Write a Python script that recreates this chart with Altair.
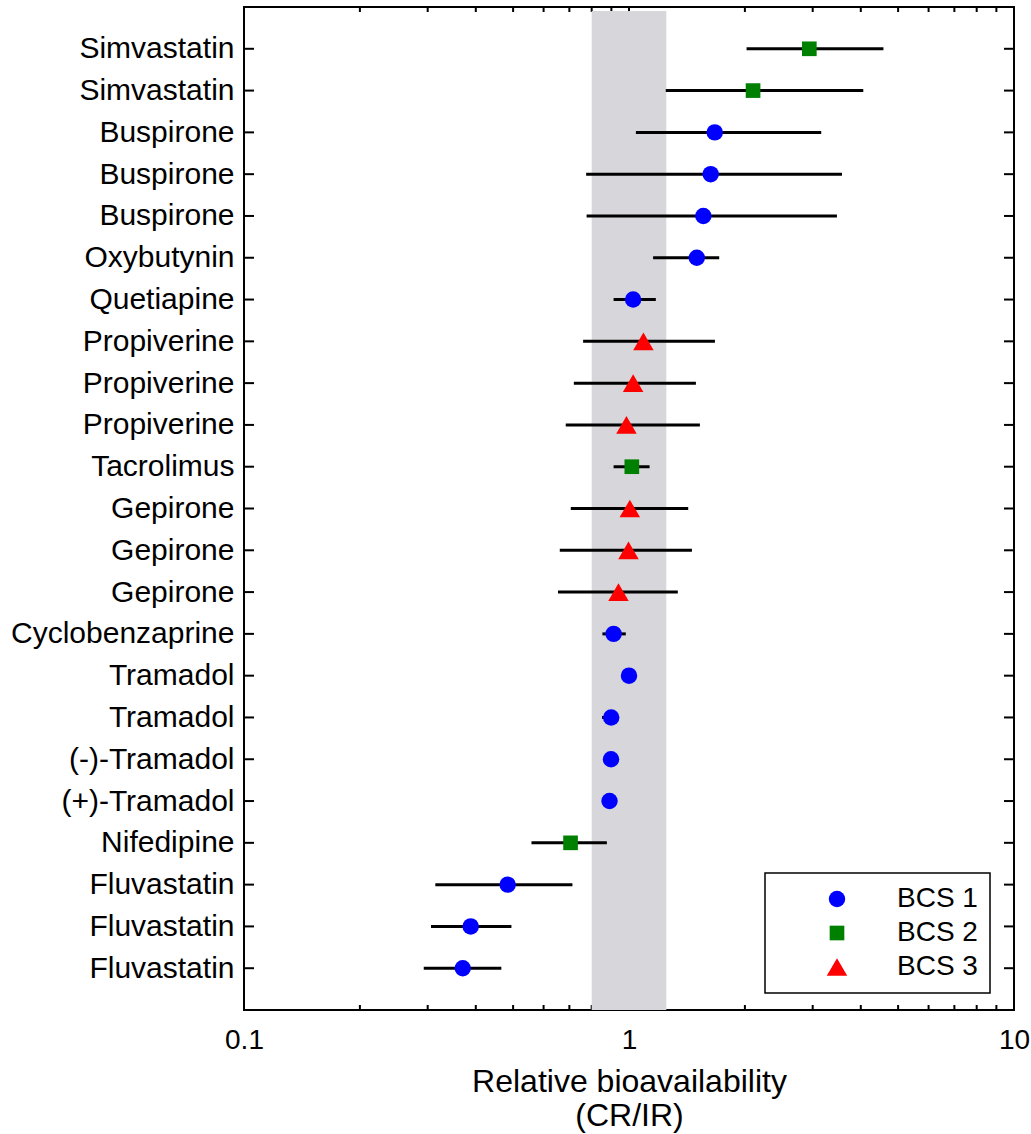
import altair as alt
import pandas as pd

# Formulations, listed top to bottom
drugs = [
    "Simvastatin", "Simvastatin", "Buspirone", "Buspirone", "Buspirone",
    "Oxybutynin", "Quetiapine", "Propiverine", "Propiverine", "Propiverine",
    "Tacrolimus", "Gepirone", "Gepirone", "Gepirone", "Cyclobenzaprine",
    "Tramadol", "Tramadol", "(-)-Tramadol", "(+)-Tramadol", "Nifedipine",
    "Fluvastatin", "Fluvastatin", "Fluvastatin",
]
bcs_class = [
    "BCS 2", "BCS 2", "BCS 1", "BCS 1", "BCS 1",
    "BCS 1", "BCS 1", "BCS 3", "BCS 3", "BCS 3",
    "BCS 2", "BCS 3", "BCS 3", "BCS 3", "BCS 1",
    "BCS 1", "BCS 1", "BCS 1", "BCS 1", "BCS 2",
    "BCS 1", "BCS 1", "BCS 1",
]
# Relative bioavailability (CR/IR) point estimates and 90% CI limits
ratio = [
    2.94, 2.10, 1.67, 1.63, 1.56,
    1.50, 1.025, 1.09, 1.025, 0.985,
    1.017, 1.005, 0.997, 0.939, 0.912,
    1.00, 0.899, 0.898, 0.890, 0.705,
    0.484, 0.388, 0.370,
]
ci_low = [
    2.02, 1.246, 1.042, 0.774, 0.776,
    1.155, 0.912, 0.760, 0.719, 0.685,
    0.912, 0.706, 0.661, 0.654, 0.853,
    None, 0.851, None, None, 0.558,
    0.314, 0.306, 0.293,
]
ci_high = [
    4.58, 4.06, 3.157, 3.574, 3.468,
    1.715, 1.174, 1.672, 1.492, 1.528,
    1.131, 1.425, 1.457, 1.339, 0.981,
    None, 0.921, None, None, 0.876,
    0.713, 0.495, 0.466,
]
# Bioequivalence window
be_limits = [0.8, 1.25]
x_ticks_minor = [0.2, 0.3, 0.4, 0.5, 0.6, 0.7, 0.8, 0.9, 1, 2, 3, 4, 5, 6, 7, 8, 9]
x_labels = [0.1, 1, 10]

W, H = 770, 1003
FONT = "Liberation Sans"

df = pd.DataFrame({
    "row": list(range(1, len(drugs) + 1)),
    "drug": drugs,
    "bcs": bcs_class,
    "ratio": ratio,
    "lo": ci_low,
    "hi": ci_high,
})
band_df = pd.DataFrame({"lo": [be_limits[0]], "hi": [be_limits[1]]})
tick_df = pd.DataFrame({"v": x_ticks_minor})

label_expr = "[''," + ",".join(f"'{d}'" for d in drugs) + "][datum.value]"

xscale = alt.Scale(type="log", domain=[0.1, 10])
yscale = alt.Scale(domain=[0, len(drugs) + 1], reverse=True)

x_axis = alt.Axis(
    values=x_labels, format="~g", ticks=False, domain=False, grid=False,
    labelFontSize=28, labelPadding=16, labelFlush=False, labelFont=FONT,
    labelColor="black",
    title=["Relative bioavailability", "(CR/IR)"], titleFontSize=32,
    titleFont=FONT, titleFontWeight="normal", titleColor="black",
    titlePadding=12, titleLineHeight=34,
)
y_axis = alt.Axis(
    values=list(range(1, len(drugs) + 1)), labelExpr=label_expr,
    ticks=False, domain=False, grid=False, labelFontSize=30,
    labelPadding=10, labelLimit=400, labelFont=FONT, labelColor="black",
    title=None,
)

# Inward ticks on all four sides of the frame
y_ticks_left = alt.Chart(df).mark_rule(color="black", strokeWidth=2).encode(
    y=alt.Y("row:Q", scale=yscale, axis=y_axis),
    x=alt.value(0), x2=alt.value(10),
)
y_ticks_right = alt.Chart(df).mark_rule(color="black", strokeWidth=2).encode(
    y=alt.Y("row:Q", scale=yscale),
    x=alt.value(W - 10), x2=alt.value(W),
)
x_ticks_top = alt.Chart(tick_df).mark_rule(color="black", strokeWidth=2).encode(
    x=alt.X("v:Q", scale=xscale, axis=x_axis),
    y=alt.value(0), y2=alt.value(5),
)
x_ticks_bottom = alt.Chart(tick_df).mark_rule(color="black", strokeWidth=2).encode(
    x=alt.X("v:Q", scale=xscale),
    y=alt.value(H - 5), y2=alt.value(H),
)

band = alt.Chart(band_df).mark_rect(color="#d7d7db").encode(
    x=alt.X("lo:Q", scale=xscale),
    x2="hi:Q",
    y=alt.value(4), y2=alt.value(H),
)

errbars = alt.Chart(df).mark_rule(color="black", strokeWidth=3).encode(
    x=alt.X("lo:Q", scale=xscale),
    x2="hi:Q",
    y=alt.Y("row:Q", scale=yscale),
)

classes = ["BCS 1", "BCS 2", "BCS 3"]
legend = alt.Legend(
    title=None, orient="none", legendX=521, legendY=866,
    strokeColor="black", fillColor="white",
    padding=12, symbolOffset=46, labelOffset=46, rowPadding=6,
    labelFontSize=28, labelFont=FONT, labelColor="black",
    symbolStrokeWidth=0,
)
points = alt.Chart(df).mark_point(filled=True, opacity=1).encode(
    x=alt.X("ratio:Q", scale=xscale),
    y=alt.Y("row:Q", scale=yscale),
    color=alt.Color("bcs:N", scale=alt.Scale(domain=classes, range=["#0000ff", "#008000", "#ff0000"]), legend=legend),
    shape=alt.Shape("bcs:N", scale=alt.Scale(domain=classes, range=["circle", "square", "triangle-up"]), legend=legend),
    size=alt.Size("bcs:N", scale=alt.Scale(type="ordinal", domain=classes, range=[270, 215, 420]), legend=legend),
)

chart = alt.layer(
    y_ticks_left, y_ticks_right, x_ticks_top, x_ticks_bottom, band, errbars, points
).properties(
    width=W, height=H,
    autosize=alt.AutoSizeParams(type="none"),
    padding={"left": 244, "top": 7, "right": 17, "bottom": 124},
    background="white",
).configure_view(
    stroke="black", strokeWidth=2,
).configure_legend(
    strokeWidth=1.5,
)

chart.save("out.html", embed_options={"renderer": "svg", "actions": False})
